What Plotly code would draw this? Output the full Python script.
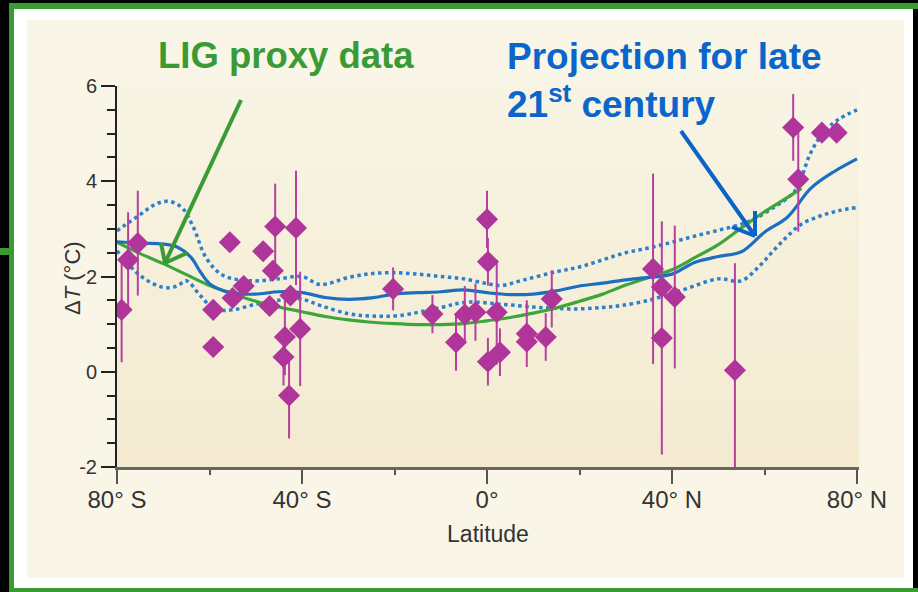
import plotly.graph_objects as go

# ---------------- data ----------------
# LIG proxy records (latitude in degrees, negative = south)
proxy_lat = [-79.0, -77.6, -75.5, -59.2, -59.2, -55.6, -55.0, -52.6, -48.4, -45.8,
             -46.3, -47.0, -41.3, -40.4, -43.7, -44.0, -42.8, -42.5,
             -20.3, -11.8, -6.7, -4.8, -2.5, 0.0, 0.2, 0.2, 2.1, 2.8, 8.6, 8.6, 12.7, 14.0,
             35.9, 37.8, 37.8, 40.6, 53.6, 66.2, 67.3, 72.4, 75.6]
proxy_dT = [1.30, 2.35, 2.70, 0.52, 1.30, 2.72, 1.55, 1.80, 2.53, 3.05,
            2.12, 1.38, 3.02, 0.90, 0.73, 0.31, -0.50, 1.60,
            1.74, 1.21, 0.62, 1.20, 1.25, 3.20, 2.31, 0.21, 1.25, 0.41, 0.80, 0.63, 0.73, 1.53,
            2.16, 1.78, 0.71, 1.57, 0.03, 5.13, 4.04, 5.02, 5.02]
proxy_err = [1.10, 1.00, 1.10, 0.00, 0.00, 0.00, 0.00, 0.00, 0.00, 0.90,
             0.00, 0.00, 1.20, 1.20, 0.80, 0.60, 0.90, 0.00,
             0.45, 0.40, 0.60, 0.60, 0.60, 0.60, 0.50, 0.50, 1.10, 0.50, 0.70, 0.00, 0.50, 0.60,
             2.00, 0.00, 2.45, 1.50, 2.25, 0.70, 1.10, 0.00, 0.00]

# LIG proxy fit (green)
lig_lat = [-80, -75, -70, -65, -60, -55, -50, -45, -40, -35, -30, -25, -20, -15, -10, -5,
           0, 5, 10, 15, 20, 25, 30, 35, 40, 45, 50, 55, 60, 65, 68]
lig_dT = [2.72, 2.48, 2.27, 2.04, 1.81, 1.64, 1.48, 1.36, 1.26, 1.16, 1.09, 1.04, 1.01, 0.99, 0.99, 1.01,
          1.07, 1.14, 1.23, 1.34, 1.48, 1.63, 1.82, 1.98, 2.14, 2.40, 2.67, 3.02, 3.36, 3.66, 3.85]

# Late 21st century projection: mean (solid) and spread (dotted)
proj_lat = [-80, -75, -70, -67, -64, -62, -60, -57, -54, -50, -45, -40, -35, -30, -25, -20, -15,
            -10, -5, 0, 5, 10, 15, 20, 25, 30, 35, 40, 45, 50, 55, 60, 65, 70, 75, 80]
proj_dT = [2.73, 2.70, 2.68, 2.62, 2.40, 2.10, 1.85, 1.70, 1.64, 1.63, 1.68, 1.66, 1.56, 1.52, 1.55,
           1.63, 1.66, 1.68, 1.72, 1.66, 1.62, 1.63, 1.70, 1.80, 1.86, 1.93, 1.98, 2.05, 2.30,
           2.42, 2.52, 2.93, 3.25, 3.85, 4.20, 4.47]

upper_lat = [-80, -75, -72, -69, -66, -63.6, -60.6, -57, -51, -45, -40, -36, -30, -25, -20, -15,
             -10, -5, 0, 3, 8, 15, 20, 25, 30, 35, 40, 45, 50, 55, 58, 62, 65, 67, 70, 73, 76, 80]
upper_dT = [2.96, 3.30, 3.50, 3.58, 3.45, 3.06, 2.37, 2.02, 1.91, 1.95, 2.00, 1.83, 1.98, 2.06,
            2.08, 2.05, 2.00, 1.95, 1.85, 1.81, 1.93, 2.10, 2.20, 2.35, 2.50, 2.60, 2.72, 2.85,
            2.97, 3.10, 3.22, 3.45, 3.65, 3.85, 4.60, 5.05, 5.30, 5.50]

lower_lat = [-80, -75, -70, -67, -65, -62, -59, -55, -50, -45, -40.4, -36, -30, -25, -19, -10,
             -4.4, 2.8, 10, 15, 20, 25, 29, 35, 40, 43, 50, 55, 59, 62, 65, 68, 72, 76, 80]
lower_dT = [2.54, 2.02, 1.77, 1.80, 1.91, 1.60, 1.32, 1.30, 1.42, 1.50, 1.53, 1.39, 1.22, 1.17,
            1.18, 1.35, 1.46, 1.42, 1.36, 1.33, 1.32, 1.35, 1.39, 1.50, 1.65, 1.74, 1.95, 1.91,
            2.23, 2.55, 2.85, 3.10, 3.27, 3.38, 3.45]

x_tickvals = [-80, -40, 0, 40, 80]
x_ticktext = ["80° S", "40° S", "0°", "40° N", "80° N"]
y_tickvals = [-2, 0, 2, 4, 6]
y_ticktext = ["-2", "0", "2", "4", "6"]

# ---------------- layout geometry (pixels) ----------------
W, H = 918, 592
PL, PR, PT, PB = 117, 859, 86, 467


def PX(x):
    return (x - PL) / (PR - PL)


def PY(y):
    return (PB - y) / (PB - PT)


GREEN = "#3a9b35"
BLUE_TXT = "#0a66cc"
MAGENTA = "#b0359a"
BLUE_LINE = "#1b6fc2"
BLUE_DOT = "#2a80cc"
FONT = "Liberation Sans, Arial, sans-serif"

fig = go.Figure()

fig.add_trace(go.Scatter(x=upper_lat, y=upper_dT, mode="lines", line=dict(color=BLUE_DOT, width=3.5, dash="dot", shape="spline", smoothing=1.0), hoverinfo="skip", showlegend=False))
fig.add_trace(go.Scatter(x=lower_lat, y=lower_dT, mode="lines", line=dict(color=BLUE_DOT, width=3.5, dash="dot", shape="spline", smoothing=1.0), hoverinfo="skip", showlegend=False))
fig.add_trace(go.Scatter(x=lig_lat, y=lig_dT, mode="lines", line=dict(color="#3ea53a", width=3.2, shape="spline", smoothing=1.0), showlegend=False))
fig.add_trace(go.Scatter(x=proj_lat, y=proj_dT, mode="lines", line=dict(color=BLUE_LINE, width=3.2, shape="spline", smoothing=1.0), showlegend=False))
fig.add_trace(go.Scatter(
    x=proxy_lat, y=proxy_dT, mode="markers",
    marker=dict(symbol="diamond", size=17, color=MAGENTA, line=dict(width=0)),
    error_y=dict(type="data", array=proxy_err, visible=True, thickness=2, width=0, color="#b5409f"),
    showlegend=False))


def rect(x0, x1, y0, y1, color):
    return dict(type="rect", xref="paper", yref="paper", x0=PX(x0), x1=PX(x1), y0=PY(y0), y1=PY(y1),
                fillcolor=color, line=dict(width=0), layer="below")


shapes = []
# frame: black page, green border lines (top, left, bottom), white mat, beige panel
shapes.append(rect(9, 930, 3, 9, GREEN))        # top
shapes.append(rect(9, 14, 3, 600, GREEN))       # left
shapes.append(rect(9, 930, 588, 600, GREEN))    # bottom
shapes.append(rect(-5, 9, 248, 255, GREEN))     # left stub
shapes.append(rect(14, 913, 9, 588, "white"))
shapes.append(rect(27, 904, 20, 578, "#f9f5e7"))
# plot-area gradient
nb = 24
c0 = (248, 244, 228)
c1 = (243, 234, 208)
for i in range(nb):
    t = i / (nb - 1)
    c = tuple(int(round(c0[k] + (c1[k] - c0[k]) * t)) for k in range(3))
    shapes.append(dict(type="rect", xref="paper", yref="paper", x0=0, x1=1,
                       y0=1 - (i + 1) / nb, y1=1 - i / nb + 0.002,
                       fillcolor="rgb(%d,%d,%d)" % c, line=dict(width=0), layer="below"))


def arrow(pts_line, barb1, barb2, color):
    (x0, y0), (x1, y1) = pts_line
    out = [dict(type="line", xref="paper", yref="paper", x0=PX(x0), y0=PY(y0), x1=PX(x1), y1=PY(y1),
                line=dict(color=color, width=4))]
    for bx, by in (barb1, barb2):
        out.append(dict(type="line", xref="paper", yref="paper", x0=PX(x1), y0=PY(y1), x1=PX(bx), y1=PY(by),
                        line=dict(color=color, width=4)))
    return out


shapes += arrow(((241, 100), (165, 263)), (161, 243), (187, 253), GREEN)
shapes += arrow(((681, 131), (755, 236)), (755, 211), (732, 227), "#0a63c6")

fig.update_layout(
    width=W, height=H,
    margin=dict(l=PL, r=W - PR, t=PT, b=H - PB),
    paper_bgcolor="black", plot_bgcolor="rgba(0,0,0,0)",
    shapes=shapes,
    font=dict(family=FONT, color="#333333"),
    xaxis=dict(range=[-80, 80.43], tickvals=x_tickvals, ticktext=x_ticktext,
               ticks="outside", ticklen=14, tickwidth=2, tickcolor="#555555",
               showline=True, linecolor="#666666", linewidth=2.5,
               showgrid=False, zeroline=False, tickfont=dict(size=24, color="#333333"),
               ticklabelstandoff=-5,
               minor=dict(tickvals=[-60, -20, 20, 60], ticks="outside", ticklen=5, tickwidth=2, tickcolor="#555555", showgrid=False),
               title=dict(text="Latitude", font=dict(size=23, color="#333333"), standoff=15)),
    yaxis=dict(range=[-2, 6], tickvals=y_tickvals, ticktext=y_ticktext,
               ticks="outside", ticklen=14, tickwidth=2, tickcolor="#222222",
               showline=True, linecolor="#222222", linewidth=2,
               showgrid=False, zeroline=False, tickfont=dict(size=20, color="#333333"),
               minor=dict(dtick=0.5, tick0=0, ticks="outside", ticklen=8, tickwidth=2, tickcolor="#222222", showgrid=False)),
    annotations=[
        dict(text="Δ<i>T</i> (°C)", xref="paper", yref="paper", x=PX(72), y=PY(278), textangle=-90,
             xanchor="center", yanchor="middle", showarrow=False,
             font=dict(size=22, color="#333333", family=FONT)),
        dict(text="<b>LIG proxy data</b>", xref="paper", yref="paper", x=PX(286), y=PY(55),
             xanchor="center", yanchor="middle", showarrow=False,
             font=dict(size=36.5, color=GREEN, family=FONT)),
        dict(text="<b>Projection for late<br>21<sup>st</sup> century</b>", xref="paper", yref="paper",
             x=PX(505), y=PY(34), xanchor="left", yanchor="top", align="left", showarrow=False,
             font=dict(size=37, color=BLUE_TXT, family=FONT)),
    ],
)

fig.write_html("out.html")
